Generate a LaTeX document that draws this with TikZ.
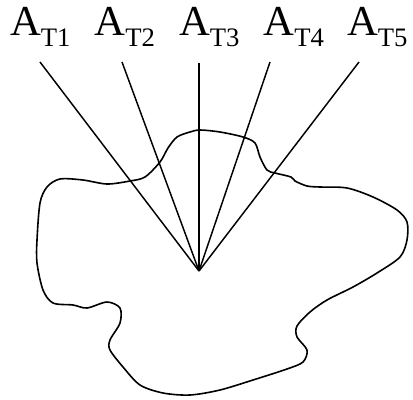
\documentclass[tikz,border=0pt]{standalone}
\usepackage{fontspec}
\setmainfont{Liberation Serif}
\begin{document}
\begin{tikzpicture}[x=0.75pt,y=-0.75pt,
  lbl/.style={anchor=base west,inner sep=0pt,outer sep=0pt},
  ray/.style={line width=1.1pt},
  outline/.style={line width=1.2pt,line join=round}]
\useasboundingbox (0,0) rectangle (413,399);
\newcommand{\atlabel}[1]{\fontsize{32}{32}\selectfont A\raisebox{-8.25pt}{\fontsize{20}{20}\selectfont T#1}}
\node[lbl] (L1) at (10,36) {\atlabel{1}};
\node[lbl] (L2) at (94.5,36) {\atlabel{2}};
\node[lbl] (L3) at (179,36) {\atlabel{3}};
\node[lbl] (L4) at (263.5,36) {\atlabel{4}};
\node[lbl] (L5) at (347,36) {\atlabel{5}};
\coordinate (apex) at (199,271);
\coordinate (t1) at (40,62);
\coordinate (t2) at (122,62);
\coordinate (t3) at (199,63);
\coordinate (t4) at (270,62);
\coordinate (t5) at (359,62);
\foreach \i in {1,...,5} {\draw[ray] (t\i) -- (apex);}
\draw[outline] plot[smooth cycle,tension=0.5] coordinates {
(60,179) (83,180) (107,184) (130,181) (145,177) (160,162) (168,148) (177,137) (190,132) (200,130) (220,132) (243,137) (255,143) (260,157) (267,170) (275,173) (291,177) (295,181) (307,186) (320,187) (347,188) (373,197) (397,210) (407,222) (407,240) (400,257) (377,273) (353,287) (327,300) (310,312) (297,326) (297,337) (307,350) (303,362) (287,369) (253,380) (220,390) (190,395) (163,393) (140,385) (123,367) (110,350) (110,340) (120,323) (120,308) (107,302) (87,308) (73,305) (53,303) (43,290) (37,263) (37,240) (40,203) (47,187)};
\end{tikzpicture}
\end{document}
